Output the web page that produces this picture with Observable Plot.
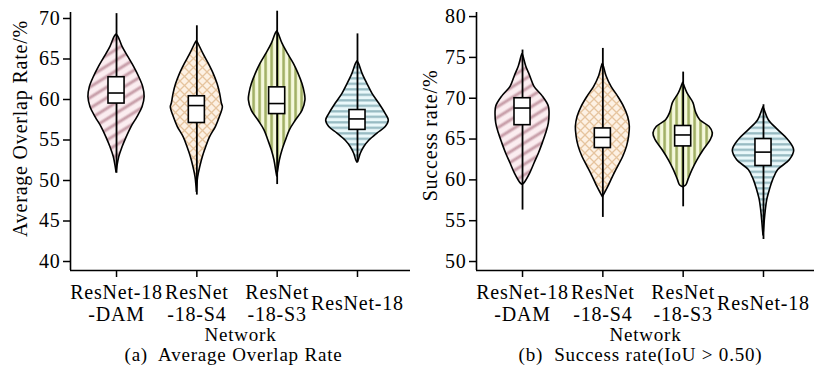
<!DOCTYPE html>
<html><head><meta charset="utf-8">
<script src="https://cdn.jsdelivr.net/npm/d3@7"></script>
<script src="https://cdn.jsdelivr.net/npm/@observablehq/plot@0.6"></script>
<style>
body{margin:0;background:#fff;width:814px;height:367px;position:relative;overflow:hidden}
#a{position:absolute;left:0;top:0}
#b{position:absolute;left:405px;top:0}
svg text{font-family:"Liberation Serif","Times New Roman",serif !important}
</style></head><body>
<svg width="0" height="0" style="position:absolute">
<defs>
<pattern id="pDAM" patternUnits="userSpaceOnUse" width="9" height="9" patternTransform="rotate(-32)">
<rect width="9" height="9" fill="#fbedf0"/>
<rect y="2.5" width="9" height="4" fill="#d9b6c0" opacity="0.7"/>
<rect y="3.5" width="9" height="2" fill="#b98a98" opacity="0.7"/>
</pattern>
<pattern id="pS4" patternUnits="userSpaceOnUse" width="9" height="9">
<rect width="9" height="9" fill="#fdf1e4"/>
<path d="M0,0L9,9M9,0L0,9" stroke="#e6c49e" stroke-width="1.3" fill="none"/>
<path d="M-1,8L1,10M8,-1L10,1" stroke="#e6c49e" stroke-width="1.3" fill="none"/>
</pattern>
<pattern id="pS3" patternUnits="userSpaceOnUse" width="6" height="6">
<rect width="6" height="6" fill="#f5f8dc"/>
<rect x="0" width="3.2" height="6" fill="#cbd59d"/>
<rect x="0.6" width="2" height="6" fill="#a2b067"/>
</pattern>
<pattern id="pR18" patternUnits="userSpaceOnUse" width="6" height="5.5">
<rect width="6" height="5.5" fill="#eaf8fa"/>
<rect y="0" width="6" height="2.6" fill="#c3dde2"/>
<rect y="0.4" width="6" height="1.8" fill="#94b8c0"/>
</pattern>
</defs></svg>
<div id="a"></div><div id="b"></div>
<script>
// ---- data ----
const categories = ["ResNet-18\n-DAM", "ResNet\n-18-S4", "ResNet\n-18-S3", "ResNet-18"];
const patternIds = ["pDAM", "pS4", "pS3", "pR18"];

// Panel (a): Average Overlap Rate — violin profiles (value levels, half-width density)
const aorDAM_y = [68.0, 67.7, 66.5, 65.2, 64.0, 62.75, 61.5, 60.3, 59.05, 57.8, 56.6, 55.3, 54.1, 52.9, 51.6, 51.0];
const aorDAM_w = [0, .025, .075, .15, .22, .283, .333, .35, .324, .26, .187, .125, .075, .034, .009, 0];
const aorS4_y = [67.2, 66.9, 65.6, 64.4, 63.2, 61.9, 60.7, 59.5, 59.05, 57.8, 56.6, 55.3, 54.1, 52.9, 51.6, 50.4, 49.2, 48.6];
const aorS4_w = [0, .019, .083, .149, .208, .258, .29, .311, .324, .286, .237, .162, .116, .075, .041, .016, .004, 0];
const aorS3_y = [68.4, 68.1, 66.9, 65.6, 64.4, 63.2, 61.9, 60.7, 59.9, 58.6, 57.4, 56.2, 54.9, 53.7, 52.5, 51.2, 50.5];
const aorS3_w = [0, .019, .066, .137, .208, .265, .315, .345, .352, .315, .233, .158, .108, .066, .034, .012, 0];
const aorR18_y = [64.7, 64.4, 63.2, 61.9, 60.7, 59.5, 58.2, 57.4, 56.6, 55.8, 54.9, 54.1, 53.3, 52.5, 52.2];
const aorR18_w = [0, .019, .062, .124, .187, .27, .352, .39, .352, .249, .146, .083, .041, .016, 0];
// box stats
const aorQ1 = [59.5, 57.1, 58.2, 56.25];
const aorMed = [60.8, 59.25, 59.5, 57.6];
const aorQ3 = [62.75, 60.4, 61.5, 58.7];
const aorLo = [50.9, 48.2, 49.5, 52.2];
const aorHi = [70.6, 69.1, 70.9, 68.1];
const aorTicks = [40, 45, 50, 55, 60, 65, 70];

// Panel (b): Success rate (IoU > 0.50)
const srDAM_y = [75.4, 75.1, 73.9, 72.7, 71.4, 70.2, 69.0, 68.2, 66.9, 65.7, 64.5, 63.2, 62.0, 60.8, 59.6, 59.4];
const srDAM_w = [0, .012, .046, .096, .149, .253, .327, .336, .327, .295, .253, .203, .149, .096, .025, 0];
const srS4_y = [74.2, 73.9, 72.7, 71.4, 70.2, 69.0, 67.7, 66.5, 65.3, 64.1, 62.8, 61.6, 60.4, 59.1, 58.1, 57.9];
const srS4_w = [0, .012, .046, .108, .19, .261, .315, .336, .327, .302, .253, .19, .128, .066, .012, 0];
const srS3_y = [71.9, 71.6, 70.6, 69.4, 68.2, 67.3, 66.5, 65.7, 64.9, 63.6, 62.4, 61.2, 60.0, 59.3, 59.1];
const srS3_w = [0, .012, .054, .128, .162, .212, .327, .37, .345, .253, .178, .116, .066, .037, 0];
const srR18_y = [68.9, 68.6, 67.3, 66.1, 64.9, 63.6, 62.4, 61.2, 60.0, 58.7, 57.5, 56.3, 55.0, 53.8, 53.2];
const srR18_w = [0, .012, .066, .183, .307, .382, .327, .183, .121, .078, .046, .029, .016, .006, 0];
const srQ1 = [66.7, 63.9, 64.1, 61.7];
const srMed = [68.8, 65.2, 65.5, 63.4];
const srQ3 = [70.0, 66.3, 66.6, 65.0];
const srLo = [56.3, 55.4, 56.7, 52.7];
const srHi = [75.9, 76.1, 73.2, 69.2];
const srTicks = [50, 55, 60, 65, 70, 75, 80];

// ---- drawing ----
const FONT = '"Liberation Serif", "Times New Roman", serif';
function panel({width, marginLeft, xDomain, yDomain, ticks, profiles, q1, med, q3, lo, hi, yLabel, ylDx, ylDy, caption, capDx}) {
  const boxes = categories.map((c, i) => ({i, q1: q1[i], med: med[i], q3: q3[i], lo: lo[i], hi: hi[i]}));
  const bw = 0.1;
  const marks = [];
  profiles.forEach(([ys, ws], i) => {
    const rows = ys.map((y, j) => ({y, w: ws[j]}));
    marks.push(Plot.areaX(rows, {y: "y", x1: d => i - d.w, x2: d => i + d.w, curve: "catmull-rom",
      fill: `url(#${patternIds[i]})`, stroke: "black", strokeWidth: 1.6}));
  });
  marks.push(
    Plot.ruleX(boxes, {x: "i", y1: "lo", y2: "hi", stroke: "black", strokeWidth: 1.8}),
    Plot.rect(boxes, {x1: d => d.i - bw, x2: d => d.i + bw, y1: "q1", y2: "q3", fill: "white", stroke: "black", strokeWidth: 1.6}),
    Plot.ruleY(boxes, {y: "med", x1: d => d.i - bw, x2: d => d.i + bw, stroke: "black", strokeWidth: 1.6}),
    Plot.ruleX([xDomain[0]], {y1: yDomain[0], y2: yDomain[1], stroke: "black", strokeWidth: 1.6}),
    Plot.ruleY([yDomain[0]], {stroke: "black", strokeWidth: 1.6}),
    Plot.text(categories, {x: (d, i) => i, text: d => d, frameAnchor: "bottom", dy: 32, lineAnchor: "middle", lineHeight: 1.1, fontSize: 20}),
    Plot.text(["Network"], {text: d => d, frameAnchor: "bottom", textAnchor: "middle", lineAnchor: "middle", dy: 64, fontSize: 19}),
    Plot.text([caption], {text: d => d, frameAnchor: "bottom", textAnchor: "middle", lineAnchor: "middle", dx: capDx, dy: 84, fontSize: 19}),
    Plot.text([yLabel], {text: d => d, frameAnchor: "left", textAnchor: "middle", lineAnchor: "middle", rotate: -90, dx: ylDx, dy: ylDy, fontSize: 20})
  );
  const svg = Plot.plot({
    width, height: 367, marginLeft, marginRight: 0, marginTop: 12, marginBottom: 97,
    style: {fontFamily: FONT, fontSize: "20px", background: "transparent", color: "black", overflow: "visible"},
    x: {domain: xDomain, ticks: [0, 1, 2, 3], tickFormat: () => "", tickSize: 7, label: null},
    y: {domain: yDomain, ticks, tickSize: 7, tickPadding: 3, label: null},
    marks
  });
  svg.style.letterSpacing = "0.8px";
  d3.select(svg).selectAll("text").attr("font-family", FONT);
  d3.select(svg).selectAll('g[aria-label*="axis"] line, g[aria-label*="axis"] path').attr("stroke-width", 1.5).attr("stroke", "black");
  return svg;
}

document.getElementById("a").appendChild(panel({
  width: 410, marginLeft: 70, xDomain: [-0.573, 3.66], yDomain: [38.89, 70.74], ticks: aorTicks,
  profiles: [[aorDAM_y, aorDAM_w], [aorS4_y, aorS4_w], [aorS3_y, aorS3_w], [aorR18_y, aorR18_w]],
  q1: aorQ1, med: aorMed, q3: aorQ3, lo: aorLo, hi: aorHi,
  yLabel: "Average Overlap Rate/%", ylDx: -50, ylDy: -13,
  caption: "(a)  Average Overlap Rate", capDx: -7
}));
document.getElementById("b").appendChild(panel({
  width: 409, marginLeft: 71, xDomain: [-0.573, 3.635], yDomain: [48.9, 80.5], ticks: srTicks,
  profiles: [[srDAM_y, srDAM_w], [srS4_y, srS4_w], [srS3_y, srS3_w], [srR18_y, srR18_w]],
  q1: srQ1, med: srMed, q3: srQ3, lo: srLo, hi: srHi,
  yLabel: "Success rate/%", ylDx: -46, ylDy: -6,
  caption: "(b)  Success rate(IoU > 0.50)", capDx: -5
}));
</script>
</body></html>
